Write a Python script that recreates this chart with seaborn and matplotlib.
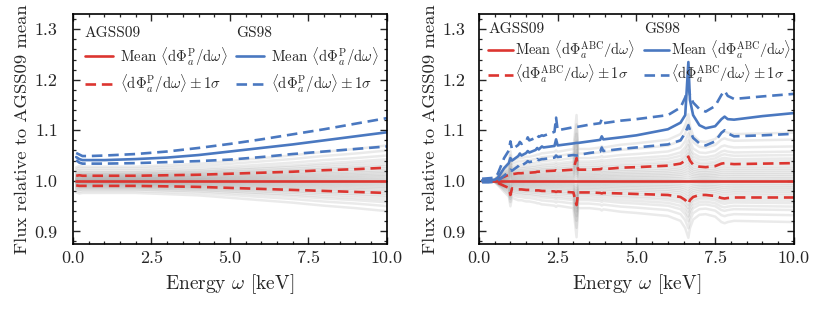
import numpy as np
import pandas as pd
import matplotlib
matplotlib.use("Agg")
import matplotlib.pyplot as plt
from matplotlib.legend import Legend
from matplotlib.ticker import MultipleLocator, FormatStrFormatter
import seaborn as sns

# ---- left panel: primakoff flux, ratio to AGSS09 mean ----
energy_p = [0.1, 0.2, 0.3, 0.5, 1, 2, 3, 4, 5, 6, 7, 8, 9, 10]
agss_p_mean = [1.0] * len(energy_p)
agss_p_up = [1.010, 1.011, 1.010, 1.010, 1.010, 1.010, 1.011, 1.012, 1.014, 1.016, 1.018, 1.021, 1.023, 1.026]
agss_p_lo = [0.991, 0.990, 0.990, 0.990, 0.990, 0.990, 0.989, 0.988, 0.986, 0.984, 0.982, 0.980, 0.978, 0.976]
gs_p_mean = [1.047, 1.043, 1.041, 1.041, 1.041, 1.043, 1.046, 1.051, 1.058, 1.065, 1.072, 1.080, 1.088, 1.096]
gs_p_up = [1.055, 1.052, 1.049, 1.049, 1.050, 1.053, 1.058, 1.065, 1.073, 1.082, 1.092, 1.102, 1.113, 1.124]
gs_p_lo = [1.041, 1.036, 1.034, 1.034, 1.034, 1.035, 1.037, 1.039, 1.042, 1.047, 1.053, 1.058, 1.063, 1.068]

# ---- right panel: ABC flux ----
energy_abc = [0.1, 0.3, 0.5, 0.6, 0.8, 0.95, 1.0, 1.05, 1.25, 1.3, 1.35, 1.5, 1.55, 1.6, 1.8, 1.85, 1.9,
              2.0, 2.05, 2.4, 2.45, 2.5, 3.0, 3.1, 3.15, 3.5, 3.85, 3.9, 3.95, 4.5, 5.0, 6.0, 6.4,
              6.55, 6.65, 6.7, 6.8, 7.0, 7.2, 7.5, 7.7, 7.8, 7.9, 8.1, 9.0, 10.0]
agss_abc_mean = [1.0] * len(energy_abc)
agss_abc_up = [1.000, 1.000, 1.001, 1.003, 1.008, 1.012, 1.014, 1.013, 1.015, 1.015, 1.015, 1.016, 1.016, 1.016,
               1.017, 1.018, 1.018, 1.019, 1.019, 1.020, 1.021, 1.020, 1.022, 1.045, 1.022, 1.022, 1.023,
               1.024, 1.023, 1.026, 1.027, 1.030, 1.034, 1.040, 1.048, 1.040, 1.032, 1.028, 1.027, 1.029,
               1.034, 1.035, 1.034, 1.033, 1.034, 1.035]
agss_abc_lo = [1.000, 1.000, 0.999, 0.996, 0.990, 0.986, 0.972, 0.985, 0.983, 0.983, 0.983, 0.982, 0.982, 0.982,
               0.981, 0.981, 0.981, 0.980, 0.980, 0.979, 0.978, 0.979, 0.977, 0.952, 0.977, 0.977, 0.976,
               0.975, 0.976, 0.975, 0.974, 0.972, 0.968, 0.962, 0.954, 0.962, 0.968, 0.972, 0.972, 0.970,
               0.966, 0.965, 0.966, 0.967, 0.967, 0.967]
gs_abc_mean = [1.000, 1.001, 1.002, 1.006, 1.025, 1.035, 1.045, 1.040, 1.049, 1.054, 1.050, 1.055, 1.059, 1.056,
               1.061, 1.065, 1.062, 1.068, 1.066, 1.069, 1.082, 1.070, 1.074, 1.075, 1.075, 1.078, 1.081,
               1.088, 1.082, 1.086, 1.090, 1.102, 1.115, 1.130, 1.235, 1.160, 1.130, 1.110, 1.104, 1.108,
               1.122, 1.127, 1.122, 1.121, 1.128, 1.134]
gs_abc_up = [1.004, 1.005, 1.006, 1.014, 1.045, 1.060, 1.078, 1.062, 1.071, 1.077, 1.073, 1.078, 1.086, 1.080,
             1.085, 1.090, 1.087, 1.090, 1.089, 1.097, 1.125, 1.100, 1.106, 1.107, 1.107, 1.111, 1.114,
             1.122, 1.114, 1.119, 1.122, 1.130, 1.145, 1.165, 1.185, 1.170, 1.155, 1.142, 1.137, 1.148,
             1.170, 1.178, 1.168, 1.162, 1.167, 1.172]
gs_abc_lo = [0.997, 0.997, 0.998, 1.000, 1.010, 1.018, 1.022, 1.020, 1.029, 1.033, 1.030, 1.036, 1.039, 1.037,
             1.040, 1.043, 1.041, 1.043, 1.043, 1.046, 1.050, 1.047, 1.051, 1.050, 1.051, 1.055, 1.058,
             1.066, 1.059, 1.063, 1.066, 1.072, 1.080, 1.095, 1.110, 1.100, 1.085, 1.074, 1.070, 1.078,
             1.095, 1.100, 1.094, 1.088, 1.090, 1.093]

# spread of the individual AGSS09 samples, in units of 1 sigma
sample_k = [-2.4, -2.0, -1.7, -1.5, -1.3, -1.15, -1.0, -0.85, -0.72, -0.6, -0.48, -0.37, -0.26,
            -0.15, -0.05, 0.05, 0.15, 0.26, 0.37, 0.48, 0.6, 0.72, 0.85, 1.0, 1.15, 1.3, 1.5,
            1.7, 2.0, 2.4, 2.8]

RED = "#dc3530"
BLUE = "#4a78c0"

sns.set_theme(style="ticks")
plt.rcParams.update({
    "font.family": "serif",
    "font.serif": ["cmr10", "DejaVu Serif"],
    "mathtext.fontset": "cm",
    "axes.formatter.use_mathtext": True,
    "axes.unicode_minus": False,
    "xtick.direction": "in",
    "ytick.direction": "in",
    "xtick.top": True,
    "ytick.right": True,
    "xtick.major.size": 5,
    "ytick.major.size": 5,
    "xtick.minor.size": 2.5,
    "ytick.minor.size": 2.5,
    "xtick.major.width": 1.0,
    "ytick.major.width": 1.0,
    "xtick.minor.width": 0.9,
    "ytick.minor.width": 0.9,
    "axes.linewidth": 1.2,
    "axes.edgecolor": "black",
    "lines.dashed_pattern": (4.0, 2.2),
})

fig = plt.figure(figsize=(8.3, 3.12), dpi=100)
renderer = fig.canvas.get_renderer()
PX = fig.dpi / 72.0


def fit_size(s, target_px, base=10.0):
    # font size (pt) that makes text s about target_px wide, as in the reference
    t = fig.text(0, 0, s, fontsize=base)
    w = t.get_window_extent(renderer).width
    t.remove()
    return base * target_px / w


def labels(tag):
    mean_lbl = r"Mean $\langle\mathrm{d}\Phi_a^{\mathrm{%s}}/\mathrm{d}\omega\rangle$" % tag
    sig_lbl = r"$\langle\mathrm{d}\Phi_a^{\mathrm{%s}}/\mathrm{d}\omega\rangle\pm1\sigma$" % tag
    return mean_lbl, sig_lbl


tick_fs = 13
xlab_fs = 14
ylab_fs = 13.4
title_fs = fit_size("AGSS09", 56)
leg_fs_p = fit_size(labels("P")[0], 108)
leg_fs_abc = fit_size(labels("ABC")[0], 120)


def samples_frame(energy, up, lo):
    rows = []
    for i, k in enumerate(sample_k):
        for e, u, l in zip(energy, up, lo):
            rows.append({"E": e, "flux": 1.0 + k * (u - l) / 2, "sample": i})
    return pd.DataFrame(rows)


def draw_panel(ax, energy, a_mean, a_up, a_lo, g_mean, g_up, g_lo, tag, fs, hlen_px, hpad_px,
               x_legs, y_leg, spacing, ypad):
    sns.lineplot(data=samples_frame(energy, a_up, a_lo), x="E", y="flux", units="sample",
                 estimator=None, color="#6e6e6e", alpha=0.14, lw=1.8, ax=ax, legend=False)
    sns.lineplot(x=energy, y=a_up, color=RED, lw=1.9, linestyle="--", ax=ax)
    sns.lineplot(x=energy, y=a_lo, color=RED, lw=1.9, linestyle="--", ax=ax)
    sns.lineplot(x=energy, y=a_mean, color=RED, lw=1.9, ax=ax)
    sns.lineplot(x=energy, y=g_up, color=BLUE, lw=1.9, linestyle="--", ax=ax)
    sns.lineplot(x=energy, y=g_lo, color=BLUE, lw=1.9, linestyle="--", ax=ax)
    sns.lineplot(x=energy, y=g_mean, color=BLUE, lw=1.9, ax=ax)

    ax.set_xlim(0, 10)
    ax.set_ylim(0.875, 1.33)
    ax.xaxis.set_major_locator(MultipleLocator(2.5))
    ax.xaxis.set_minor_locator(MultipleLocator(0.5))
    ax.yaxis.set_major_locator(MultipleLocator(0.1))
    ax.yaxis.set_minor_locator(MultipleLocator(0.02))
    ax.xaxis.set_major_formatter(FormatStrFormatter("%.1f"))
    ax.yaxis.set_major_formatter(FormatStrFormatter("%.1f"))
    ax.tick_params(which="both", top=True, right=True, labelsize=tick_fs)
    ax.tick_params(axis="x", pad=4.5)
    ax.tick_params(axis="y", pad=ypad)
    ax.set_xlabel(r"Energy $\omega$ [keV]", fontsize=xlab_fs, labelpad=5)
    ax.set_ylabel("Flux relative to AGSS09 mean", fontsize=ylab_fs, labelpad=3)

    mean_lbl, sig_lbl = labels(tag)
    fpx = fs * PX
    for name, col, x0 in zip(["AGSS09", "GS98"], [RED, BLUE], x_legs):
        h = [plt.Line2D([], [], color=col, lw=1.9),
             plt.Line2D([], [], color=col, lw=1.9, linestyle="--")]
        leg = Legend(ax, h, [mean_lbl, sig_lbl], title=name, loc="upper left",
                     bbox_to_anchor=(x0, y_leg), frameon=False, fontsize=fs,
                     title_fontsize=title_fs, alignment="left", handlelength=hlen_px / fpx,
                     handletextpad=hpad_px / fpx, borderaxespad=0.25, labelspacing=spacing)
        ax.add_artist(leg)


ax1 = fig.add_axes([0.088, 0.218, 0.378, 0.737])
ax2 = fig.add_axes([0.577, 0.218, 0.3795, 0.737])

draw_panel(ax1, energy_p, agss_p_mean, agss_p_up, agss_p_lo, gs_p_mean, gs_p_up, gs_p_lo,
           "P", leg_fs_p, 28, 7, (0.006, 0.49), 0.99, 0.33, 11)
draw_panel(ax2, energy_abc, agss_abc_mean, agss_abc_up, agss_abc_lo, gs_abc_mean, gs_abc_up, gs_abc_lo,
           "ABC", leg_fs_abc, 25, 2, (0.0, 0.495), 1.005, 0.15, 10)

fig.savefig("out.png", dpi=100)
